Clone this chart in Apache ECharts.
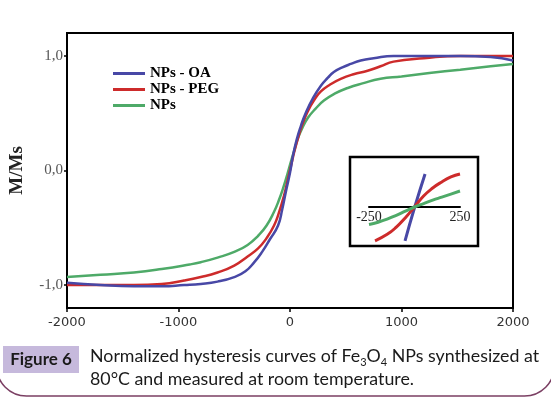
<!DOCTYPE html>
<html>
<head>
<meta charset="utf-8">
<script src="https://cdn.jsdelivr.net/npm/echarts@6/dist/echarts.min.js"></script>
<style>
  html, body { margin: 0; padding: 0; background: #fff; }
  #main { width: 551px; height: 398px; }
</style>
</head>
<body>
<div id="main"></div>
<script>
var seriesNames = ['NPs - OA', 'NPs - PEG', 'NPs'];
var colors = ['#4848a6', '#cd2b2b', '#4eaa68'];

// main curves: field (Oe) vs M/Ms
var oaField = [-2000, -1700, -1400, -1150, -950, -800, -650, -500, -400, -320, -250, -180, -107, -70, -36, 0, 27, 60, 98, 140, 205, 277, 340, 393, 470, 545, 634, 750, 929, 1200, 1527, 1800, 2000];
var oaM = [-0.98, -1.0, -1.01, -1.01, -1.0, -0.99, -0.97, -0.93, -0.88, -0.80, -0.71, -0.60, -0.48, -0.34, -0.18, -0.02, 0.13, 0.27, 0.39, 0.50, 0.63, 0.74, 0.81, 0.86, 0.90, 0.93, 0.96, 0.98, 1.0, 1.0, 1.0, 0.99, 0.96];

var pegField = [-2000, -1700, -1400, -1150, -950, -800, -650, -500, -380, -286, -210, -143, -100, -54, -20, 9, 40, 71, 110, 161, 220, 277, 360, 455, 570, 696, 812, 929, 1200, 1527, 1800, 2000];
var pegM = [-1.0, -1.0, -1.0, -0.99, -0.96, -0.93, -0.89, -0.83, -0.75, -0.68, -0.59, -0.48, -0.37, -0.22, -0.08, 0.04, 0.17, 0.28, 0.40, 0.52, 0.62, 0.69, 0.75, 0.80, 0.84, 0.87, 0.91, 0.95, 0.98, 1.0, 1.0, 1.0];

var npField = [-2000, -1700, -1400, -1150, -900, -800, -650, -500, -380, -286, -210, -143, -100, -54, -20, 9, 40, 71, 110, 161, 230, 304, 400, 518, 650, 812, 1000, 1250, 1527, 1800, 2000];
var npM = [-0.93, -0.91, -0.89, -0.86, -0.82, -0.80, -0.76, -0.71, -0.65, -0.57, -0.48, -0.36, -0.26, -0.13, -0.02, 0.08, 0.18, 0.28, 0.37, 0.46, 0.54, 0.61, 0.67, 0.72, 0.76, 0.80, 0.82, 0.85, 0.88, 0.91, 0.93];

// inset (low field region)
var insetOaField = [-52, 0, 58];
var insetOaM = [-0.89, -0.02, 0.87];
var insetPegField = [-217, -150, -100, -50, 0, 50, 100, 150, 200, 250];
var insetPegM = [-0.89, -0.72, -0.53, -0.28, 0, 0.29, 0.50, 0.66, 0.79, 0.87];
var insetNpField = [-250, -200, -150, -100, -50, 0, 50, 100, 150, 200, 250];
var insetNpM = [-0.46, -0.40, -0.32, -0.22, -0.11, 0, 0.09, 0.18, 0.26, 0.34, 0.42];

var xTicks = [-2000, -1000, 0, 1000, 2000];
var yTicks = [-1, 0, 1];
var insetTicks = [-250, 250];

function pairs(xs, ys) {
    var out = [];
    for (var i = 0; i < xs.length; i++) out.push([xs[i], ys[i]]);
    return out;
}

var myChart = echarts.init(document.getElementById('main'));

var mainData = [pairs(oaField, oaM), pairs(pegField, pegM), pairs(npField, npM)];
var insetData = [pairs(insetOaField, insetOaM), pairs(insetPegField, insetPegM), pairs(insetNpField, insetNpM)];

var series = [];
for (var i = 0; i < 3; i++) {
    series.push({
        name: seriesNames[i],
        type: 'line',
        smooth: true,
        symbol: 'none',
        data: mainData[i],
        lineStyle: { color: colors[i], width: 2.5 },
        itemStyle: { color: colors[i] },
        z: 3 - i
    });
}
for (var j = 0; j < 3; j++) {
    series.push({
        name: 'inset ' + j,
        type: 'line',
        smooth: true,
        symbol: 'none',
        xAxisIndex: 1,
        yAxisIndex: 1,
        data: insetData[j],
        lineStyle: { color: colors[j], width: 3 },
        z: 5
    });
}

option = {
    animation: false,
    backgroundColor: '#fff',
    grid: [
        { left: 65, top: 33, width: 448, height: 275, show: true, borderColor: '#000', borderWidth: 2 },
        { left: 369, top: 169, width: 91, height: 76 }
    ],
    legend: {
        data: seriesNames,
        orient: 'vertical',
        left: 108,
        top: 61,
        icon: 'rect',
        itemWidth: 32,
        itemHeight: 3,
        itemGap: 1,
        textStyle: { fontFamily: 'Liberation Serif', fontWeight: 'bold', fontSize: 15, color: '#000' }
    },
    xAxis: [{
        type: 'value',
        min: -2000,
        max: 2000,
        interval: 1000,
        axisLine: { show: false, onZero: false },
        axisTick: { show: true, length: 4, lineStyle: { color: '#000', width: 1.5 }, customValues: xTicks },
        axisLabel: {
            margin: 8, fontFamily: 'DejaVu Sans', fontSize: 13, color: '#333', customValues: xTicks,
            formatter: function (v) { return String(v); }
        },
        splitLine: { show: false }
    }, {
        type: 'value',
        gridIndex: 1,
        min: -250,
        max: 250,
        offset: -38,
        axisLine: { show: true, onZero: false, lineStyle: { color: '#000', width: 2 } },
        axisTick: { show: false },
        axisLabel: {
            margin: 3, fontFamily: 'Liberation Serif', fontSize: 14, color: '#222', customValues: insetTicks,
            formatter: function (v) { return String(v); }
        },
        splitLine: { show: false }
    }],
    yAxis: [{
        type: 'value',
        min: -1.2,
        max: 1.2,
        name: 'M/Ms',
        nameLocation: 'middle',
        nameRotate: 90,
        nameGap: 40,
        nameTextStyle: { fontFamily: 'Liberation Serif', fontWeight: 'bold', fontSize: 19, color: '#222' },
        axisLine: { show: false, onZero: false },
        axisTick: { show: true, length: 3, lineStyle: { color: '#000', width: 1.5 }, customValues: yTicks },
        axisLabel: {
            margin: 4,
            fontFamily: 'Liberation Serif',
            fontSize: 15,
            color: '#555',
            customValues: yTicks,
            formatter: function (v) { return v.toFixed(1).replace('.', ','); }
        },
        splitLine: { show: false }
    }, {
        type: 'value',
        gridIndex: 1,
        min: -1,
        max: 1,
        show: false
    }],
    graphic: [
        { type: 'rect', shape: { x: 350, y: 157, width: 128, height: 89 }, style: { fill: 'none', stroke: '#000', lineWidth: 2.5 }, z: 10 },
        { type: 'rect', shape: { x: -3.5, y: -100, width: 558, height: 496, r: 30 }, style: { fill: 'none', stroke: '#7b3f63', lineWidth: 1.5 }, z: 1 },
        { type: 'rect', shape: { x: 3, y: 346, width: 76, height: 27 }, style: { fill: '#c6b9dc' }, z: 2 },
        { type: 'text', x: 41, y: 360, style: { text: 'Figure 6', fontFamily: 'Lato', fontWeight: 'bold', fontSize: 17, fill: '#1a1a1a', align: 'center', verticalAlign: 'middle' }, z: 3 },
        {
            type: 'text', x: 90, y: 345, z: 3,
            style: {
                text: 'Normalized hysteresis curves of Fe{sub|3}O{sub|4} NPs synthesized at\n80°C and measured at room temperature.',
                fontFamily: 'Lato',
                fontSize: 17.8,
                lineHeight: 23,
                fill: '#1a1a1a',
                rich: {
                    sub: { fontFamily: 'Lato', fontSize: 11, lineHeight: 10, verticalAlign: 'bottom', fill: '#1a1a1a' }
                }
            }
        }
    ],
    series: series
};
myChart.setOption(option);
</script>
</body>
</html>
